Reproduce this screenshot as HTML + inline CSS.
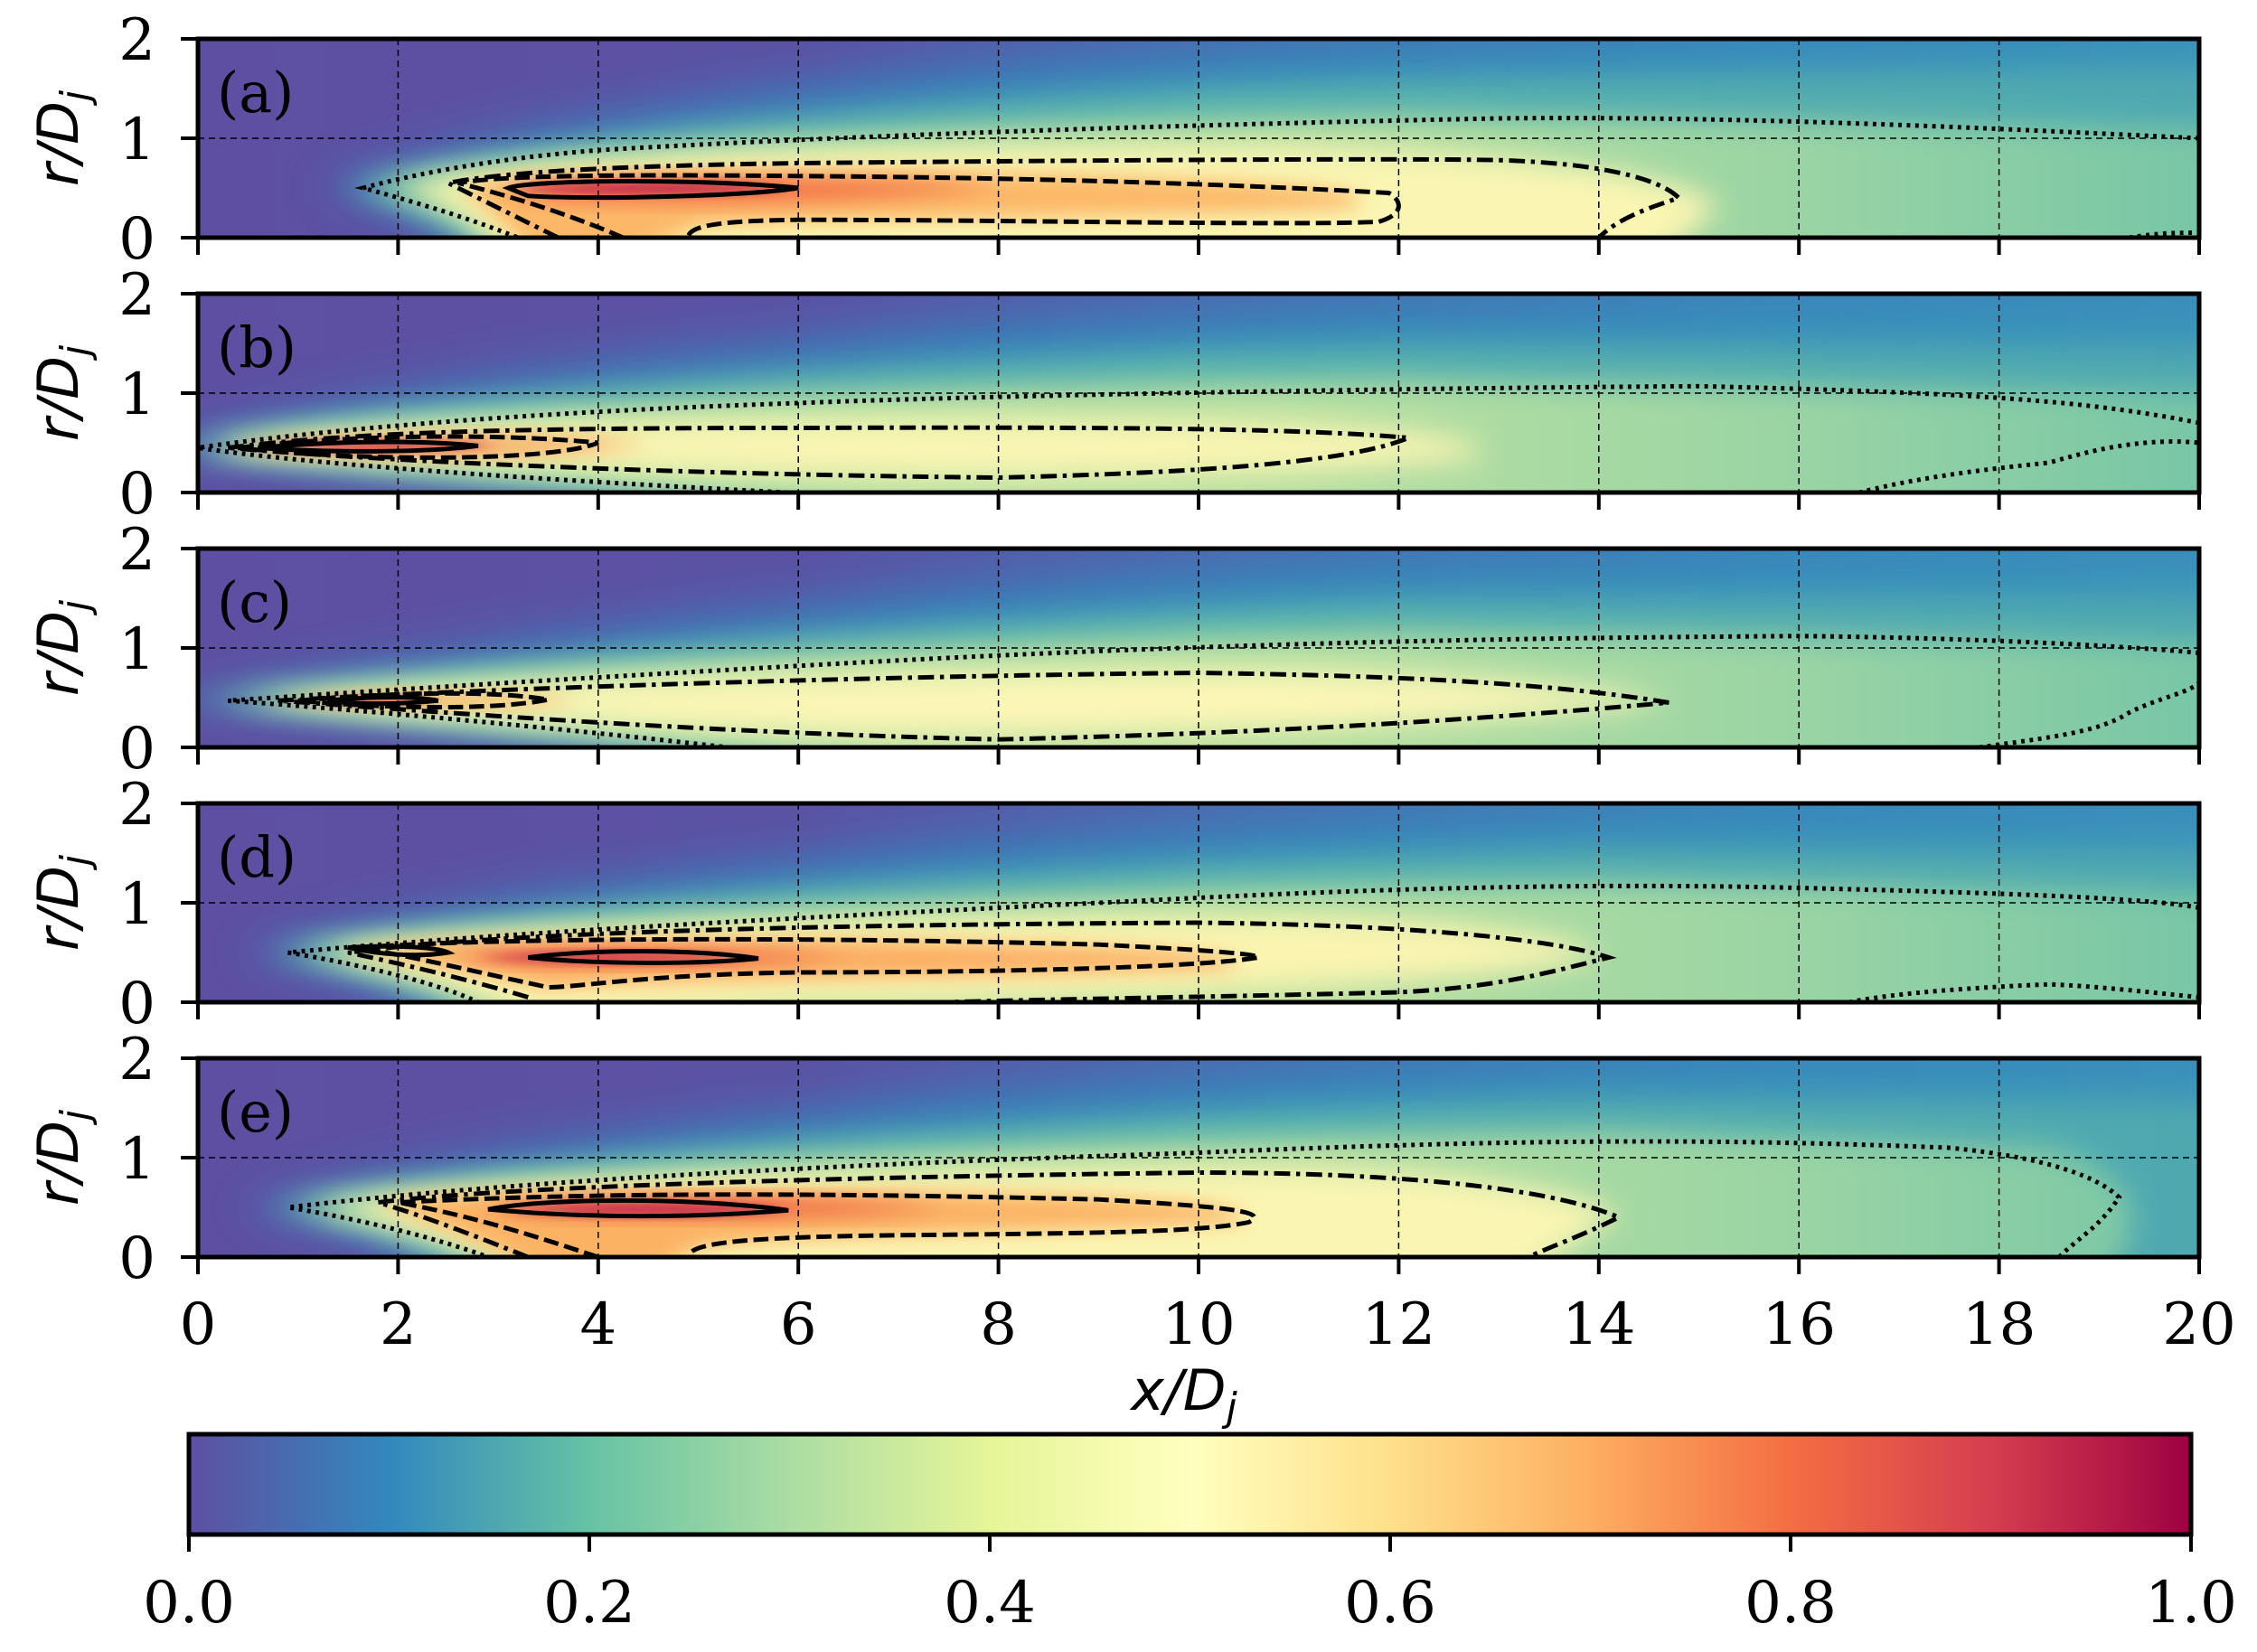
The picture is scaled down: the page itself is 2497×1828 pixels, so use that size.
<!DOCTYPE html>
<html><head><meta charset="utf-8"><style>html,body{margin:0;padding:0;background:#fff}svg{display:block}</style></head>
<body>
<svg xmlns="http://www.w3.org/2000/svg" width="2497" height="1828" viewBox="0 0 2497 1828">
<defs>
<filter id="b0" x="-0.3" y="-0.5" width="1.6" height="2"><feGaussianBlur stdDeviation="0.22"/></filter>
<filter id="b1" x="-0.3" y="-0.5" width="1.6" height="2"><feGaussianBlur stdDeviation="0.14"/></filter>
<filter id="b2" x="-0.3" y="-0.5" width="1.6" height="2"><feGaussianBlur stdDeviation="0.1"/></filter>
<filter id="b3" x="-0.3" y="-0.5" width="1.6" height="2"><feGaussianBlur stdDeviation="0.05"/></filter>
<clipPath id="cp"><rect x="0" y="0" width="20" height="2"/></clipPath>
<linearGradient id="bg" gradientUnits="userSpaceOnUse" x1="0" y1="0" x2="20" y2="0">
<stop offset="0" stop-color="#5e4fa2"/><stop offset="0.3" stop-color="#5b52a4"/><stop offset="0.55" stop-color="#4a6db1"/><stop offset="0.8" stop-color="#3b83bb"/><stop offset="1" stop-color="#3a89bc"/></linearGradient>
<linearGradient id="bl" gradientUnits="userSpaceOnUse" x1="0" y1="0" x2="20" y2="0">
<stop offset="0" stop-color="#3d80bb" stop-opacity="0.6"/><stop offset="0.4" stop-color="#3288bd" stop-opacity="0.9"/><stop offset="1" stop-color="#3a95b9"/></linearGradient>
<linearGradient id="tl" gradientUnits="userSpaceOnUse" x1="0" y1="0" x2="20" y2="0">
<stop offset="0" stop-color="#4aa3b2"/><stop offset="0.5" stop-color="#58b3ac"/><stop offset="1" stop-color="#4fa8b0"/></linearGradient>
<linearGradient id="gr" gradientUnits="userSpaceOnUse" x1="0" y1="0" x2="20" y2="0">
<stop offset="0" stop-color="#bfe3a0"/><stop offset="0.55" stop-color="#b8e0a1"/><stop offset="0.8" stop-color="#9ad4a4"/><stop offset="1" stop-color="#78c6a6"/></linearGradient>
<linearGradient id="cb" x1="0" y1="0" x2="1" y2="0">
<stop offset="0" stop-color="#5e4fa2"/><stop offset="0.1" stop-color="#3288bd"/><stop offset="0.2" stop-color="#66c2a5"/><stop offset="0.3" stop-color="#abdda4"/><stop offset="0.4" stop-color="#e6f598"/><stop offset="0.5" stop-color="#ffffbf"/><stop offset="0.6" stop-color="#fee08b"/><stop offset="0.7" stop-color="#fdae61"/><stop offset="0.8" stop-color="#f46d43"/><stop offset="0.9" stop-color="#d53e4f"/><stop offset="1" stop-color="#9e0142"/></linearGradient>
<style>
.ln{fill:none;stroke:#000;stroke-width:0.045}
.dt{stroke-dasharray:0.035 0.05}
.dd{stroke-dasharray:0.16 0.06 0.04 0.06}
.ds{stroke-dasharray:0.15 0.06}
</style>
</defs>

<g font-family="DejaVu Serif, Liberation Serif, serif" font-size="64" fill="#000">

<!-- PANEL A -->
<g transform="translate(219,263) scale(110.7,-110)"><g clip-path="url(#cp)">
<rect x="0" y="0" width="20" height="2" fill="url(#bg)"/>
<path filter="url(#b0)" fill="url(#bl)" d="M1.2,0.5 C3,1.2 6,1.75 12,1.95 L20.5,2.1 L20.5,-0.3 L2.8,-0.3 C2.4,0.1 1.8,0.35 1.2,0.5Z"/>
<path filter="url(#b1)" fill="url(#tl)" d="M1.4,0.5 C3,0.95 6,1.4 12,1.6 L20.5,1.7 L20.5,-0.3 L3.0,-0.3 C2.6,0.1 2,0.35 1.4,0.5Z"/>
<path filter="url(#b1)" fill="url(#gr)" d="M1.7,0.5 C3,0.85 6,1.1 12,1.22 L20.5,1.1 L20.5,-0.3 L3.1,-0.3 C2.8,0.1 2.3,0.35 1.7,0.5Z"/>
<path filter="url(#b1)" fill="#faf5b2" d="M2.1,0.5 C3,0.75 6,0.95 11,0.92 C13.5,0.85 15,0.6 15.2,0.3 L14.5,-0.3 L3.3,-0.3 C2.8,0.2 2.5,0.4 2.1,0.5Z"/>
<path filter="url(#b2)" fill="#fcb868" d="M2.6,0.5 C3.5,0.7 6,0.72 9,0.62 C11,0.55 12,0.45 11.5,0.3 C10,0.2 7,0.22 5,0.12 L4.3,-0.2 L3.4,-0.2 C3,0.2 2.8,0.4 2.6,0.5Z"/>
<path filter="url(#b2)" fill="#f26f46" d="M3,0.5 C4,0.65 6,0.62 8,0.52 C7,0.38 5,0.32 3.5,0.38 Z"/>
<path filter="url(#b3)" fill="#c22c4e" d="M3.2,0.5 C4,0.58 5.5,0.56 5.9,0.5 C5,0.42 4,0.42 3.2,0.48Z"/>
<path class="ln dt" d="M20,1.0 C17,1.15 15,1.22 13,1.2 C9,1.12 6,1.0 4,0.88 C3,0.8 2.2,0.65 1.65,0.5 C2.2,0.35 2.7,0.2 3.2,0"/>
<path class="ln dt" d="M19.3,0 C19.6,0.05 19.8,0.05 20,0.05"/>
<path class="ln dd" d="M3.6,0 C3.2,0.2 2.8,0.4 2.5,0.55 C3,0.65 4,0.72 6,0.75 C9,0.78 12,0.8 13,0.78 C14,0.75 14.6,0.6 14.8,0.4 C14.5,0.3 14.2,0.2 14,0"/>
<path class="ln ds" d="M4.25,0 C3.8,0.2 3.2,0.4 2.6,0.55 C3,0.62 4,0.64 6,0.62 C9,0.6 11,0.5 11.9,0.45 C12,0.4 12.1,0.25 11.8,0.16 C11,0.12 8,0.18 6,0.18 C5.2,0.17 4.9,0.12 4.9,0"/>
<path class="ln" d="M3.1,0.5 C3.3,0.58 5,0.6 6,0.5 C5.5,0.42 4,0.38 3.3,0.42 Z"/>
</g></g>

<!-- PANEL B -->
<g transform="translate(219,545) scale(110.7,-110)"><g clip-path="url(#cp)">
<rect x="0" y="0" width="20" height="2" fill="url(#bg)"/>
<path filter="url(#b0)" fill="url(#bl)" d="M-0.5,0.45 C2,1.25 6,1.7 12,1.85 L20.5,1.9 L20.5,-0.3 L6,-0.3 C4,-0.1 1,0.2 -0.5,0.45Z"/>
<path filter="url(#b1)" fill="url(#tl)" d="M-0.3,0.45 C2,1.0 6,1.35 12,1.5 L20.5,1.45 L20.5,-0.3 L7,-0.3 C4,0 1,0.25 -0.3,0.45Z"/>
<path filter="url(#b1)" fill="url(#gr)" d="M0,0.45 C2,0.85 6,1.05 12,1.12 L20.5,1.0 L20.5,-0.3 L8,-0.3 C5,0 2,0.2 0,0.45Z"/>
<path filter="url(#b1)" fill="#faf5b2" d="M0.1,0.45 C2,0.72 6,0.78 10,0.72 C12,0.68 13,0.55 12.8,0.35 C11,0.15 8,0.12 5,0.2 C3,0.28 1,0.38 0.1,0.45Z"/>
<path filter="url(#b2)" fill="#f8a65e" d="M0.3,0.45 C1.5,0.6 3,0.62 4.5,0.5 C3.5,0.32 1.5,0.32 0.3,0.45Z"/>
<path filter="url(#b3)" fill="#d8424d" d="M0.6,0.46 C1.5,0.55 2.5,0.54 3,0.47 C2.3,0.4 1.3,0.4 0.6,0.46Z"/>
<path class="ln dt" d="M20,0.7 C19,0.9 18,1.0 15,1.07 C12,1.05 8,0.98 6,0.9 C3,0.8 1,0.6 0,0.45 C1,0.3 3,0.15 5.9,0"/>
<path class="ln dt" d="M16.6,0 C17,0.1 17.5,0.2 18.5,0.3 C19,0.45 19.5,0.55 20,0.5"/>
<path class="ln dd" d="M0.3,0.45 C1.5,0.6 3,0.65 6,0.65 C9,0.66 11,0.65 12.1,0.55 C11.5,0.3 10,0.2 8,0.15 C5,0.18 2,0.3 0.3,0.45Z"/>
<path class="ln ds" d="M0.4,0.45 C1.5,0.58 3,0.6 4,0.5 C3.5,0.3 1.5,0.32 0.4,0.45Z"/>
<path class="ln" d="M0.6,0.45 C1.5,0.53 2.3,0.52 2.8,0.47 C2.3,0.4 1.3,0.4 0.6,0.45Z"/>
</g></g>

<!-- PANEL C -->
<g transform="translate(219,827) scale(110.7,-110)"><g clip-path="url(#cp)">
<rect x="0" y="0" width="20" height="2" fill="url(#bg)"/>
<path filter="url(#b0)" fill="url(#bl)" d="M-0.4,0.47 C3,1.15 6,1.6 12,1.85 L20.5,1.9 L20.5,-0.3 L6,-0.3 C4,-0.1 2,0.2 -0.4,0.47Z"/>
<path filter="url(#b1)" fill="url(#tl)" d="M-0.2,0.47 C3,0.9 6,1.25 12,1.5 L20.5,1.5 L20.5,-0.3 L7,-0.3 C4,0.05 2,0.3 -0.2,0.47Z"/>
<path filter="url(#b1)" fill="url(#gr)" d="M0.2,0.47 C3,0.8 7,1.05 12,1.15 L20.5,1.05 L20.5,-0.3 L8,-0.3 C5,0 2,0.3 0.2,0.47Z"/>
<path filter="url(#b1)" fill="#fcf6b6" d="M0.5,0.47 C3,0.65 7,0.8 11,0.77 C13,0.72 14.5,0.55 14.7,0.45 C13,0.25 10,0.12 7,0.12 C4,0.2 2,0.35 0.5,0.47Z"/>
<path filter="url(#b2)" fill="#f9ad60" d="M0.8,0.47 C2,0.58 3,0.58 3.8,0.47 C3,0.38 2,0.38 0.8,0.47Z"/>
<path filter="url(#b3)" fill="#d53e4f" d="M1.2,0.47 C1.7,0.52 2.2,0.52 2.4,0.47 C2,0.42 1.6,0.42 1.2,0.47Z"/>
<path class="ln dt" d="M20,0.95 C19.5,1.0 18,1.1 16,1.12 C13,1.1 10,1.05 6,0.82 C3,0.65 1.5,0.55 0.3,0.47 C2,0.35 4,0.15 5.3,0"/>
<path class="ln dt" d="M17.8,0 C18.5,0.1 19,0.15 19.3,0.35 C19.6,0.5 19.9,0.55 20,0.65"/>
<path class="ln dd" d="M0.8,0.47 C3,0.6 7,0.72 10,0.75 C12,0.72 13.5,0.65 14.7,0.45 C13,0.3 11,0.15 8,0.08 C5,0.15 2.5,0.35 0.8,0.47Z"/>
<path class="ln ds" d="M1,0.47 C2,0.56 3,0.57 3.5,0.48 C3,0.38 2,0.38 1,0.47Z"/>
<path class="ln" d="M1.3,0.47 C1.8,0.52 2.2,0.51 2.4,0.47 C2,0.43 1.6,0.43 1.3,0.47Z"/>
</g></g>

<!-- PANEL D -->
<g transform="translate(219,1109) scale(110.7,-110)"><g clip-path="url(#cp)">
<rect x="0" y="0" width="20" height="2" fill="url(#bg)"/>
<path filter="url(#b0)" fill="url(#bl)" d="M0.4,0.5 C3,1.25 7,1.7 14,1.9 L20.5,1.9 L20.5,-0.3 L2.8,-0.3 C1.8,0.1 1.1,0.35 0.4,0.5Z"/>
<path filter="url(#b1)" fill="url(#tl)" d="M0.6,0.5 C3,1.0 7,1.35 14,1.55 L20.5,1.5 L20.5,-0.3 L3,-0.3 C2,0.2 1.3,0.4 0.6,0.5Z"/>
<path filter="url(#b1)" fill="url(#gr)" d="M0.9,0.5 C3,0.85 8,1.1 14,1.2 L20.5,1.1 L20.5,-0.3 L3.2,-0.3 C2.5,0.2 1.5,0.4 0.9,0.5Z"/>
<path filter="url(#b1)" fill="#faf4b0" d="M1.2,0.5 C3,0.75 7,0.87 11,0.87 C13,0.82 14,0.6 14,0.45 C13,0.2 10,0.05 6,0 L3.5,-0.2 C2.5,0.2 1.8,0.4 1.2,0.5Z"/>
<path filter="url(#b2)" fill="#fbad62" d="M1.5,0.52 C3,0.7 6,0.66 9,0.55 C10,0.5 10.6,0.45 10.3,0.35 C8,0.25 5,0.25 3.5,0.15 C2.5,0.35 2,0.45 1.5,0.52Z"/>
<path filter="url(#b2)" fill="#ee6446" d="M2.5,0.48 C3.5,0.58 5,0.56 6.5,0.45 C5,0.35 3.5,0.35 2.5,0.48Z"/>
<path filter="url(#b3)" fill="#cf3a4f" d="M2.8,0.45 C3.5,0.52 4.5,0.52 5.5,0.44 C4.5,0.38 3.5,0.38 2.8,0.45Z"/>
<path class="ln dt" d="M20,0.95 C19.5,1.05 18,1.1 16,1.15 C14,1.2 12,1.15 10,1.05 C6,0.85 3,0.7 0.9,0.5 C1.8,0.35 2.5,0.15 2.8,0.0"/>
<path class="ln dt" d="M16.5,0 C17,0.1 17.8,0.15 18.5,0.18 C19,0.16 19.5,0.1 20,0.05"/>
<path class="ln dd" d="M3.3,0.05 C2.8,0.2 2.2,0.35 1.5,0.5 C3,0.7 6,0.78 10,0.8 C12,0.78 13.5,0.65 14.1,0.45 C13.5,0.3 13,0.15 12,0.1 C10,0.05 8,0.02 7.5,0"/>
<path class="ln ds" d="M1.6,0.55 C3,0.65 6,0.66 9,0.58 C10.2,0.52 10.6,0.48 10.6,0.45 C10,0.35 8,0.3 6,0.3 C4.5,0.28 3.8,0.15 3.5,0.15 C2.8,0.3 2.2,0.45 1.6,0.55Z"/>
<path class="ln" d="M3.3,0.45 C4,0.54 5,0.53 5.6,0.44 C5,0.38 4,0.38 3.3,0.45Z"/>
<path class="ln" d="M1.5,0.55 C2,0.58 2.4,0.55 2.5,0.5 C2.2,0.45 1.8,0.48 1.5,0.55Z"/>
</g></g>

<!-- PANEL E -->
<g transform="translate(219,1391) scale(110.7,-110)"><g clip-path="url(#cp)">
<rect x="0" y="0" width="20" height="2" fill="url(#bg)"/>
<path filter="url(#b0)" fill="url(#bl)" d="M0.4,0.5 C3,1.25 7,1.75 14,1.95 L20.5,1.95 L20.5,-0.3 L2.8,-0.3 C1.8,0.1 1.1,0.35 0.4,0.5Z"/>
<path filter="url(#b1)" fill="url(#tl)" d="M0.6,0.5 C3,1.0 7,1.4 14,1.6 L20.5,1.55 L20.5,-0.3 L3,-0.3 C2,0.2 1.3,0.4 0.6,0.5Z"/>
<path filter="url(#b1)" fill="url(#gr)" d="M0.9,0.5 C3,0.9 8,1.15 14,1.25 L18.5,1.1 C19.5,0.8 19.5,0.3 19,-0.3 L3.2,-0.3 C2.5,0.2 1.5,0.4 0.9,0.5Z"/>
<path filter="url(#b1)" fill="#faf5b2" d="M1.2,0.5 C3,0.75 7,0.9 11,0.9 C13,0.85 14,0.6 14.2,0.4 C13.8,0.2 13.5,0 13.3,-0.2 L3.5,-0.2 C2.5,0.2 1.8,0.4 1.2,0.5Z"/>
<path filter="url(#b2)" fill="#fbb264" d="M1.8,0.55 C3,0.72 6,0.7 9,0.6 C10,0.55 10.6,0.48 10.4,0.35 C8,0.25 6,0.22 5,0.1 L4.5,-0.2 L3.5,-0.2 C2.8,0.2 2.2,0.4 1.8,0.55Z"/>
<path filter="url(#b2)" fill="#ef6645" d="M2.8,0.5 C4,0.65 6,0.62 7.5,0.5 C6,0.38 4,0.35 2.8,0.5Z"/>
<path filter="url(#b3)" fill="#c5304f" d="M3,0.48 C4,0.58 5.5,0.56 5.9,0.47 C5,0.4 4,0.4 3,0.48Z"/>
<path class="ln dt" d="M18.6,0 C18.8,0.2 19,0.3 19.2,0.6 C19,0.8 18.5,1.0 17.5,1.1 C15,1.2 13,1.18 10,1.05 C6,0.92 3,0.75 0.9,0.5 C1.8,0.35 2.5,0.15 2.9,0"/>
<path class="ln dd" d="M3.3,0 C2.8,0.2 2.3,0.4 1.8,0.55 C3,0.7 6,0.8 10,0.85 C12,0.85 13.5,0.7 14.2,0.4 C13.8,0.2 13.5,0.1 13.3,0"/>
<path class="ln ds" d="M4,0 C3.4,0.2 2.8,0.4 2,0.55 C4,0.65 6,0.65 9,0.58 C10.4,0.5 10.7,0.45 10.5,0.35 C10,0.25 9,0.24 7,0.22 C5.5,0.2 4.9,0.15 4.9,0"/>
<path class="ln" d="M2.9,0.48 C3.5,0.6 5,0.6 5.9,0.47 C5,0.4 4,0.38 2.9,0.48Z"/>
</g></g>

<!-- grids, spines, ticks -->
<g fill="none" stroke="#000">
<g stroke-width="1.5" stroke-dasharray="7 5">
<path d="M440.4,43V263M661.8,43V263M883.2,43V263M1104.6,43V263M1326,43V263M1547.4,43V263M1768.8,43V263M1990.2,43V263M2211.6,43V263M219,153H2433"/>
<path d="M440.4,325V545M661.8,325V545M883.2,325V545M1104.6,325V545M1326,325V545M1547.4,325V545M1768.8,325V545M1990.2,325V545M2211.6,325V545M219,435H2433"/>
<path d="M440.4,607V827M661.8,607V827M883.2,607V827M1104.6,607V827M1326,607V827M1547.4,607V827M1768.8,607V827M1990.2,607V827M2211.6,607V827M219,717H2433"/>
<path d="M440.4,889V1109M661.8,889V1109M883.2,889V1109M1104.6,889V1109M1326,889V1109M1547.4,889V1109M1768.8,889V1109M1990.2,889V1109M2211.6,889V1109M219,999H2433"/>
<path d="M440.4,1171V1391M661.8,1171V1391M883.2,1171V1391M1104.6,1171V1391M1326,1171V1391M1547.4,1171V1391M1768.8,1171V1391M1990.2,1171V1391M2211.6,1171V1391M219,1281H2433"/>
</g>
<g stroke-width="5">
<rect x="219" y="43" width="2214" height="220"/>
<rect x="219" y="325" width="2214" height="220"/>
<rect x="219" y="607" width="2214" height="220"/>
<rect x="219" y="889" width="2214" height="220"/>
<rect x="219" y="1171" width="2214" height="220"/>
</g>
<g stroke-width="4">
<path d="M219,263v19M440.4,263v19M661.8,263v19M883.2,263v19M1104.6,263v19M1326,263v19M1547.4,263v19M1768.8,263v19M1990.2,263v19M2211.6,263v19M2433,263v19M219,43h-19M219,153h-19M219,263h-19"/>
<path d="M219,545v19M440.4,545v19M661.8,545v19M883.2,545v19M1104.6,545v19M1326,545v19M1547.4,545v19M1768.8,545v19M1990.2,545v19M2211.6,545v19M2433,545v19M219,325h-19M219,435h-19M219,545h-19"/>
<path d="M219,827v19M440.4,827v19M661.8,827v19M883.2,827v19M1104.6,827v19M1326,827v19M1547.4,827v19M1768.8,827v19M1990.2,827v19M2211.6,827v19M2433,827v19M219,607h-19M219,717h-19M219,827h-19"/>
<path d="M219,1109v19M440.4,1109v19M661.8,1109v19M883.2,1109v19M1104.6,1109v19M1326,1109v19M1547.4,1109v19M1768.8,1109v19M1990.2,1109v19M2211.6,1109v19M2433,1109v19M219,889h-19M219,999h-19M219,1109h-19"/>
<path d="M219,1391v19M440.4,1391v19M661.8,1391v19M883.2,1391v19M1104.6,1391v19M1326,1391v19M1547.4,1391v19M1768.8,1391v19M1990.2,1391v19M2211.6,1391v19M2433,1391v19M219,1171h-19M219,1281h-19M219,1391h-19"/>
</g>
</g>

<g font-size="62">
<text x="240" y="124">(a)</text>
<text x="240" y="406">(b)</text>
<text x="240" y="688">(c)</text>
<text x="240" y="970">(d)</text>
<text x="240" y="1252">(e)</text>
</g>

<g text-anchor="end">
<text x="172" y="66">2</text><text x="172" y="176">1</text><text x="172" y="286">0</text>
<text x="172" y="348">2</text><text x="172" y="458">1</text><text x="172" y="568">0</text>
<text x="172" y="630">2</text><text x="172" y="740">1</text><text x="172" y="850">0</text>
<text x="172" y="912">2</text><text x="172" y="1022">1</text><text x="172" y="1132">0</text>
<text x="172" y="1194">2</text><text x="172" y="1304">1</text><text x="172" y="1414">0</text>
</g>

<g font-family="DejaVu Sans, Liberation Sans, sans-serif" font-style="italic" font-size="62" text-anchor="middle">
<text transform="translate(86,153) rotate(-90)">r/D<tspan font-size="44" dy="12">j</tspan></text>
<text transform="translate(86,435) rotate(-90)">r/D<tspan font-size="44" dy="12">j</tspan></text>
<text transform="translate(86,717) rotate(-90)">r/D<tspan font-size="44" dy="12">j</tspan></text>
<text transform="translate(86,999) rotate(-90)">r/D<tspan font-size="44" dy="12">j</tspan></text>
<text transform="translate(86,1281) rotate(-90)">r/D<tspan font-size="44" dy="12">j</tspan></text>
</g>

<g text-anchor="middle">
<text x="219" y="1487">0</text><text x="440.4" y="1487">2</text><text x="661.8" y="1487">4</text><text x="883.2" y="1487">6</text><text x="1104.6" y="1487">8</text><text x="1326" y="1487">10</text><text x="1547.4" y="1487">12</text><text x="1768.8" y="1487">14</text><text x="1990.2" y="1487">16</text><text x="2211.6" y="1487">18</text><text x="2433" y="1487">20</text>
</g>
<text x="1310" y="1560" text-anchor="middle" font-family="DejaVu Sans, Liberation Sans, sans-serif" font-style="italic" font-size="62">x/D<tspan font-size="44" dy="12">j</tspan></text>

<rect x="209" y="1587" width="2215" height="111" fill="url(#cb)" stroke="#000" stroke-width="5"/>
<path d="M209,1698v19M652,1698v19M1095,1698v19M1538,1698v19M1981,1698v19M2424,1698v19" stroke="#000" stroke-width="4"/>
<g text-anchor="middle">
<text x="209" y="1795">0.0</text><text x="652" y="1795">0.2</text><text x="1095" y="1795">0.4</text><text x="1538" y="1795">0.6</text><text x="1981" y="1795">0.8</text><text x="2424" y="1795">1.0</text>
</g>
</g>
</svg>
</body></html>
